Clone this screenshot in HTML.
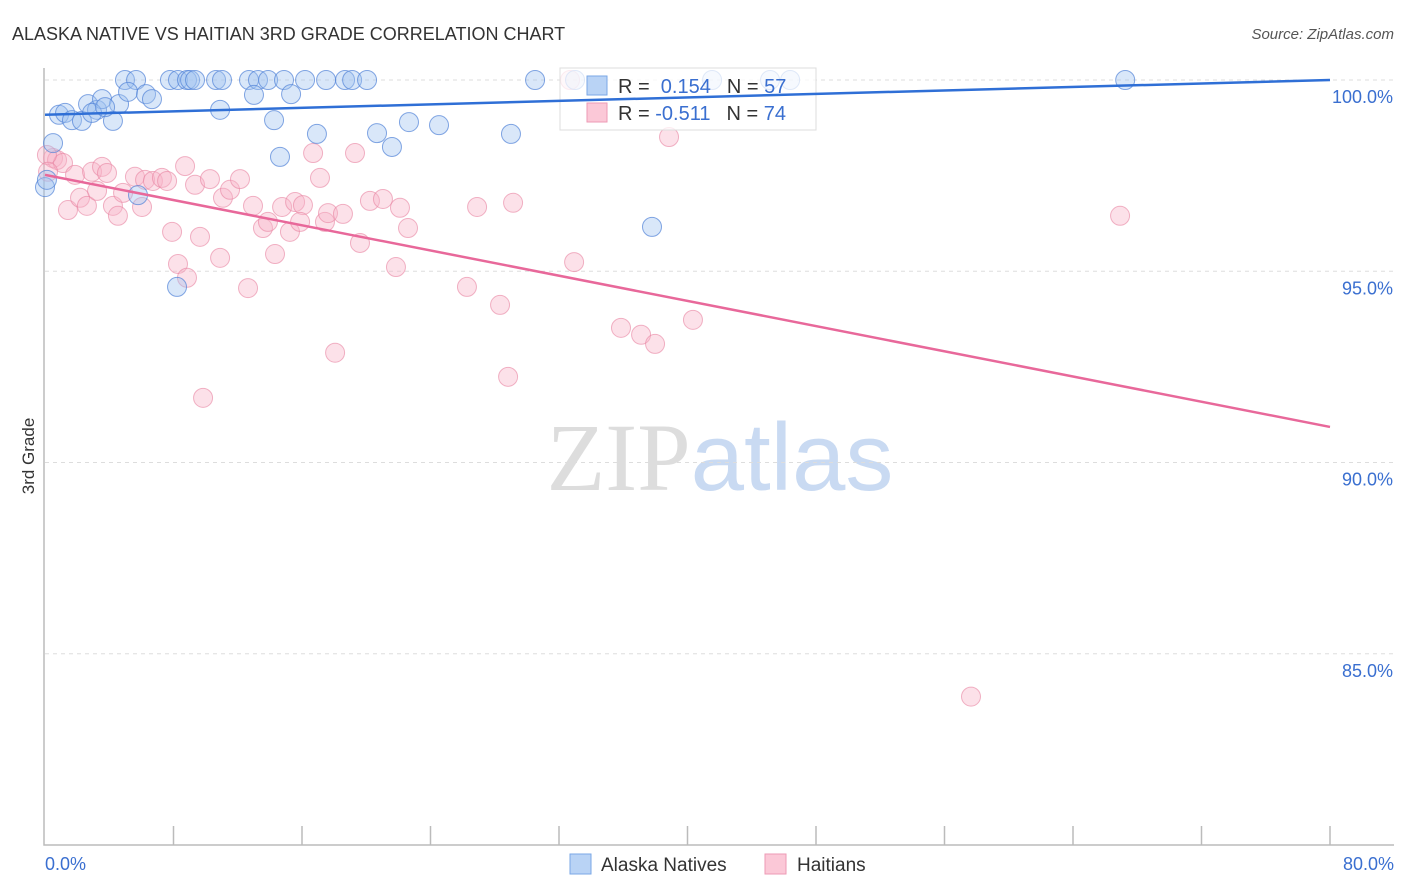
<!DOCTYPE html>
<html><head><meta charset="utf-8">
<style>
body{margin:0;background:#fff;font-family:"Liberation Sans",sans-serif;}
svg{display:block}
</style></head>
<body>
<svg id="chart" width="1406" height="892" xmlns="http://www.w3.org/2000/svg" font-family="Liberation Sans, sans-serif">
<text x="12" y="40" font-size="18" fill="#333">ALASKA NATIVE VS HAITIAN 3RD GRADE CORRELATION CHART</text>
<text x="1394" y="39" font-size="15" fill="#555" text-anchor="end" font-style="italic">Source: ZipAtlas.com</text>
<text x="720" y="490" font-size="96" text-anchor="middle"><tspan fill="#ddd" font-family="Liberation Serif, serif">ZIP</tspan><tspan fill="#c9daf2">atlas</tspan></text>
<g id="grid"></g>
<g id="axes"></g>
<g id="pts"></g>
<g>
<rect x="560" y="68" width="256" height="62" fill="rgba(255,255,255,0.75)" stroke="#ddd"/>
<rect x="587" y="76" width="20" height="19" fill="#b9d3f5" stroke="#7aa7e6"/>
<rect x="587" y="103" width="20" height="19" fill="#fbc8d7" stroke="#ee9ab4"/>
<text x="618" y="93" font-size="20" fill="#333">R = <tspan fill="#3a6fd0">&#160;0.154</tspan><tspan dx="16">N = </tspan><tspan fill="#3a6fd0">57</tspan></text>
<text x="618" y="120" font-size="20" fill="#333">R = <tspan fill="#3a6fd0">-0.511</tspan><tspan dx="16">N = </tspan><tspan fill="#3a6fd0">74</tspan></text>
</g>
<g id="trends"></g>
<text transform="translate(34,456) rotate(-90)" font-size="17" fill="#333" text-anchor="middle">3rd Grade</text>
<g>
<rect x="570" y="854" width="21" height="20" fill="#b9d3f5" stroke="#7aa7e6"/>
<text x="601" y="871" font-size="19" fill="#333">Alaska Natives</text>
<rect x="765" y="854" width="21" height="20" fill="#fbc8d7" stroke="#ee9ab4"/>
<text x="797" y="871" font-size="19" fill="#333">Haitians</text>
</g>
</svg>
<script>
const yTicks=[100,95,90,85];
const yTickLabels=["100.0%","95.0%","90.0%","85.0%"];
const xTicks=[0,8,16,24,32,40,48,56,64,72,80];
const blueX=[4.98,5.67,7.78,8.28,8.84,9.03,9.34,10.65,11.02,12.70,13.26,13.89,14.88,16.19,17.50,18.68,19.12,20.05,30.51,41.53,45.14,67.25,46.39,33.00,
0.87,1.25,1.68,2.30,2.68,3.24,3.55,4.23,4.61,5.17,6.29,6.66,10.90,13.01,15.32,0.50,14.26,14.63,16.93,20.67,21.60,22.66,24.53,29.01,37.79,8.22,0,5.79,2.93,3.74,0.12];
const blueY=[100,100,100,100,100,100,100,100,100,100,100,100,100,100,100,100,100,100,100,100,100,100,100,100,
99.09,99.14,98.95,98.93,99.37,99.22,99.50,98.93,99.37,99.69,99.63,99.50,99.22,99.61,99.63,98.35,98.95,97.99,98.59,98.61,98.25,98.90,98.82,98.59,96.16,94.59,97.20,96.99,99.14,99.29,97.39];
const pinkX=[0.50,0.75,1.12,1.87,2.93,3.55,3.86,1.43,2.18,2.61,3.24,4.23,4.54,4.86,5.60,6.04,6.23,6.72,7.28,7.60,8.72,9.34,10.27,11.08,11.52,12.14,12.95,13.57,13.88,14.76,15.57,16.06,15.25,15.88,17.43,17.62,18.55,19.61,20.23,21.04,22.10,22.60,16.69,17.12,19.30,7.91,9.65,8.28,8.84,10.90,14.32,12.64,21.85,0.12,0.19,18.06,9.84,26.90,29.14,32.94,26.27,28.33,28.83,35.86,37.11,37.98,40.34,38.85,66.93,57.65,32.69];
const pinkY=[97.96,97.91,97.83,97.52,97.60,97.73,97.57,96.60,96.92,96.71,97.10,96.71,96.45,97.05,97.47,96.68,97.39,97.36,97.44,97.36,97.75,97.26,97.41,96.92,97.13,97.41,96.71,96.13,96.29,96.68,96.81,96.73,96.03,96.29,96.29,96.52,96.50,95.74,96.84,96.89,96.66,96.13,98.09,97.44,98.09,96.03,95.90,95.19,94.83,95.35,95.45,94.56,95.11,98.04,97.60,92.87,91.69,96.68,96.79,95.24,94.59,94.12,92.24,93.52,93.34,93.10,93.73,98.51,96.45,83.88,100];
const blueTrend=[99.09,100.0];
const pinkTrend=[97.52,90.93];
const NS="http://www.w3.org/2000/svg";
const X0=45,X1=1330,Y100=80,Y80=845;
function sx(v){return X0+(v/80)*(X1-X0);}
function sy(v){return Y100+(100-v)/20*(Y80-Y100);}
function mk(tag,attrs,parent){const e=document.createElementNS(NS,tag);for(const k in attrs)e.setAttribute(k,attrs[k]);parent.appendChild(e);return e;}
const grid=document.getElementById('grid'),axes=document.getElementById('axes'),pts=document.getElementById('pts'),tr=document.getElementById('trends');
yTicks.forEach((t,i)=>{
 const l=mk('line',{x1:X0,x2:1394,y1:sy(t),y2:sy(t),stroke:'#ddd','stroke-dasharray':'4,4'},grid);
 
 
 const tx=mk('text',{x:1393,y:sy(t)+23,'font-size':18,fill:'#3a6fd0','text-anchor':'end'},axes);
 tx.textContent=yTickLabels[i];
 
 
});
const ax=mk('path',{d:`M${X0-1},68 V${Y80} H1394`,stroke:'#bbb',fill:'none','stroke-width':1.5},axes);


xTicks.slice(1).forEach(t=>{
 const l=mk('line',{x1:sx(t),x2:sx(t),y1:826,y2:Y80,stroke:'#bbb','stroke-width':1.5},axes);
 
 
});
[[0,'0.0%','start',45],[80,'80.0%','end',1394]].forEach(a=>{
 const tx=mk('text',{x:a[3],y:870,'font-size':18,fill:'#3a6fd0','text-anchor':a[2]},axes);
 tx.textContent=a[1];
 
 
});
pinkX.forEach((x,i)=>{
 const c=mk('circle',{cx:sx(x),cy:sy(pinkY[i]),r:9.5,fill:'rgba(248,180,200,0.4)',stroke:'rgba(232,130,160,0.6)','stroke-width':1},pts);
 
 
});
blueX.forEach((x,i)=>{
 const c=mk('circle',{cx:sx(x),cy:sy(blueY[i]),r:9.5,fill:'rgba(160,195,240,0.4)',stroke:'rgba(80,130,215,0.7)','stroke-width':1},pts);
 
 
});
const bl=mk('line',{x1:sx(0),x2:sx(80),y1:sy(blueTrend[0]),y2:sy(blueTrend[1]),stroke:'#2f6fd6','stroke-width':2.5},tr);


const pl=mk('line',{x1:sx(0),x2:sx(80),y1:sy(pinkTrend[0]),y2:sy(pinkTrend[1]),stroke:'#e8689a','stroke-width':2.5},tr);


</script>
</body></html>
